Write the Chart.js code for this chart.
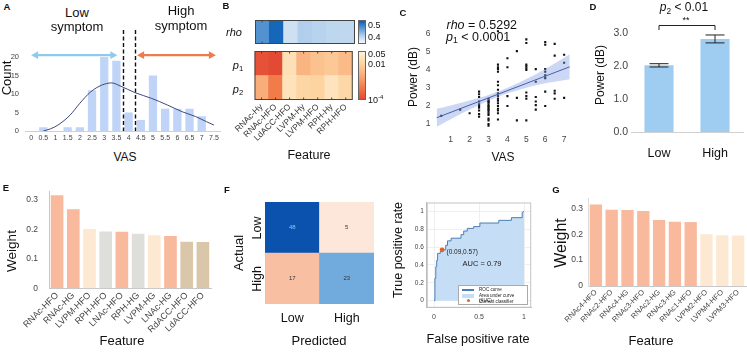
<!DOCTYPE html>
<html>
<head>
<meta charset="utf-8">
<script src="https://cdn.jsdelivr.net/npm/chart.js@4.4.0/dist/chart.umd.min.js"></script>
<style>
  body { margin: 0; background: #fff; }
  #fig { position: relative; width: 747px; height: 352px; overflow: hidden; font-family: "Liberation Sans", Arial, sans-serif; color: #111; }
  canvas { position: absolute; }
  .t { position: absolute; transform: translate(-50%, -50%); white-space: nowrap; line-height: 1; }
  .l { position: absolute; transform: translate(0, -50%); white-space: nowrap; line-height: 1; }
  .v { transform: translate(-50%, -50%) rotate(-90deg); }
  .k { font-weight: bold; font-size: 9.5px; }
  sub { font-size: 0.7em; vertical-align: -0.3em; line-height: 0; }
  .cbar { position: absolute; border: 1px solid #666; box-sizing: border-box; }
  #rocLegend { position: absolute; left: 458px; top: 285px; width: 70px; height: 20px; border: 1px solid #aaa; background: #fff; box-sizing: border-box; font-size: 4.6px; color: #222; }
  #rocLegend div { position: absolute; }
</style>
</head>
<body>
<div id="fig">
  <canvas id="cA"></canvas>
  <canvas id="cBr"></canvas>
  <canvas id="cBp"></canvas>
  <canvas id="cC"></canvas>
  <canvas id="cD"></canvas>
  <canvas id="cE"></canvas>
  <canvas id="cF"></canvas>
  <canvas id="cRoc"></canvas>
  <canvas id="cG"></canvas>

  <!-- A -->
  <div class="t k" style="left:7px;top:7px">A</div>
  <div class="t" style="left:77px;top:11.5px;font-size:13px">Low</div>
  <div class="t" style="left:77px;top:26px;font-size:13px">symptom</div>
  <div class="t" style="left:181px;top:9.5px;font-size:13px">High</div>
  <div class="t" style="left:181px;top:25px;font-size:13px">symptom</div>
  <div class="t v" style="left:5.5px;top:78px;font-size:13px">Count</div>
  <div class="t" style="left:125px;top:157px;font-size:12px">VAS</div>

  <!-- B -->
  <div class="t k" style="left:226px;top:6px">B</div>
  <div class="t" style="left:234px;top:32px;font-size:11px"><i>rho</i></div>
  <div class="t" style="left:238px;top:65px;font-size:11px"><i>p</i><sub>1</sub></div>
  <div class="t" style="left:238px;top:89px;font-size:11px"><i>p</i><sub>2</sub></div>
  <div id="cbRho" class="cbar" style="left:358px;top:19.5px;width:8px;height:24px"></div>
  <div id="cbP" class="cbar" style="left:358px;top:51px;width:8px;height:49px"></div>
  <div class="l" style="left:368px;top:24.5px;font-size:9px">0.5</div>
  <div class="l" style="left:368px;top:36.5px;font-size:9px">0.4</div>
  <div class="l" style="left:368px;top:53.5px;font-size:9px">0.05</div>
  <div class="l" style="left:368px;top:63.5px;font-size:9px">0.01</div>
  <div class="l" style="left:368px;top:98.5px;font-size:9px">10<sup style="font-size:6px">-4</sup></div>
  <div class="t" style="left:309px;top:155px;font-size:12.5px">Feature</div>

  <!-- C -->
  <div class="t k" style="left:403px;top:13px">C</div>
  <div class="l" style="left:446.5px;top:25px;font-size:12.5px"><i>rho</i> = 0.5292</div>
  <div class="l" style="left:446px;top:37px;font-size:12.5px"><i>p</i><sub>1</sub> &lt; 0.0001</div>
  <div class="t v" style="left:413px;top:77px;font-size:12px">Power (dB)</div>
  <div class="t" style="left:503px;top:157px;font-size:12px">VAS</div>

  <!-- D -->
  <div class="t k" style="left:593px;top:7px">D</div>
  <div class="t" style="left:684px;top:7px;font-size:12px"><i>p</i><sub>2</sub> &lt; 0.01</div>
  <div class="t" style="left:686px;top:20px;font-size:9px">**</div>
  <div class="t v" style="left:600px;top:75px;font-size:12px">Power (dB)</div>

  <!-- E -->
  <div class="t k" style="left:6px;top:188px">E</div>
  <div class="t v" style="left:12px;top:251px;font-size:13.5px">Weight</div>
  <div class="t" style="left:122px;top:340px;font-size:13px">Feature</div>

  <!-- F -->
  <div class="t k" style="left:227px;top:190px">F</div>
  <div class="t v" style="left:238px;top:253px;font-size:13px">Actual</div>
  <div class="t v" style="left:257px;top:228px;font-size:12.5px">Low</div>
  <div class="t v" style="left:257px;top:279px;font-size:12.5px">High</div>
  <div class="t" style="left:319px;top:340px;font-size:13px">Predicted</div>
  <div class="t v" style="left:398px;top:250px;font-size:12.5px">True positive rate</div>
  <div class="t" style="left:478px;top:338.5px;font-size:12.7px">False positive rate</div>
  <div class="l" style="left:446.5px;top:251.5px;font-size:6.5px;color:#222">(0.09,0.57)</div>
  <div class="t" style="left:482px;top:264px;font-size:7.5px;color:#222">AUC = 0.79</div>
  <div id="rocLegend">
    <div style="left:3px;top:3px;width:12px;height:1.5px;background:#4a7fb5"></div>
    <div style="left:20px;top:1.2px">ROC curve</div>
    <div style="left:3px;top:8px;width:12px;height:3.5px;background:#c6def5"></div>
    <div style="left:20px;top:7.2px">Area under curve (AUC)</div>
    <div style="left:7.5px;top:13px;width:3px;height:3px;border-radius:50%;background:#e0622a"></div>
    <div style="left:20px;top:12.7px">Current classifier</div>
  </div>

  <!-- G -->
  <div class="t k" style="left:556px;top:190px">G</div>
  <div class="t v" style="left:561px;top:243px;font-size:16px">Weight</div>
  <div class="t" style="left:651px;top:340px;font-size:13px">Feature</div>
</div>

<script>
// ---- A: VAS histogram ----
const vasBins = [0.5, 1.5, 2, 2.5, 3, 3.5, 4, 4.5, 5, 5.5, 6, 6.5, 7];
const vasCounts = [1, 1, 1, 11, 20, 19, 5, 3, 15, 6, 6, 6, 4];
const densityX = [0.5, 0.8, 1.1, 1.6, 2.0, 2.45, 2.9, 3.3, 3.65, 4.25, 4.95, 5.6, 6.2, 6.75, 7.2, 7.5];
const densityY = [0.0, 0.6, 1.6, 4.3, 7.5, 10.6, 12.4, 13.0, 12.2, 10.4, 8.8, 7.0, 5.2, 3.9, 2.5, 1.6];
const vasTicks = [0, 0.5, 1, 1.5, 2, 2.5, 3, 3.5, 4, 4.5, 5, 5.5, 6, 6.5, 7, 7.5];
const countTicks = [0, 5, 10, 15, 20];
const cutPoints = [3.75, 4.25];
const lowRange = [0, 3.54];
const highRange = [4.35, 7.58];
const arrowLevel = 20.5;

// ---- B: correlation heatmap ----
const featB = ['RNAc-Hy', 'RNAc-HFO', 'LdACC-HFO', 'LVPM-Hy', 'LVPM-HFO', 'RPH-Hy', 'RPH-HFO'];
const rhoVals = [0.477, 0.5292, 0.372, 0.40, 0.395, 0.39, 0.387];
const p1Vals = [0.00013, 0.0001, 0.020, 0.0032, 0.0053, 0.0068, 0.0042];
const p2Vals = [0.0024, 0.00047, 0.022, 0.012, 0.0106, 0.024, 0.0127];

// ---- C: power vs VAS ----
const scatterVas = [0.5, 1.5, 2, 2.5, 3, 3.5, 4, 4.5, 5, 5.5, 6, 6.5, 7];
const scatterPower = [
  [1.45],
  [1.8],
  [1.6],
  [2.8, 2.65, 2.5, 2.25, 2.1, 2.0, 1.9, 1.75, 1.55, 1.4],
  [2.4, 2.3, 2.25, 2.2, 2.1, 2.0, 1.95, 1.85, 1.8, 1.7, 1.6, 1.5, 1.3, 1.2, 1.0, 0.9],
  [6.15, 4.3, 4.15, 4.05, 3.9, 3.35, 3.15, 2.9, 2.7, 2.55, 2.4, 2.3, 2.15, 2.0, 1.85, 1.75, 1.6, 1.25],
  [4.65, 4.15, 2.55, 2.0],
  [5.05, 2.45, 1.2],
  [5.7, 5.5, 4.3, 4.2, 4.1, 4.0, 2.75, 2.55, 2.4, 1.2],
  [4.05, 3.35, 2.5, 2.25, 2.05, 1.8],
  [5.55, 5.4, 4.05, 3.9, 3.7, 3.55, 2.8, 2.0],
  [5.45, 4.8, 2.85, 2.7, 2.4],
  [4.85, 4.4, 2.45]
];
const fitX = [0.26, 7.3];
const fitY = [1.35, 4.18];
const bandX = [0.26, 1, 2, 3, 3.5, 4, 5, 6, 7.3];
const bandUpper = [1.85, 2.03, 2.3, 2.61, 2.8, 3.01, 3.5, 4.06, 4.88];
const bandLower = [0.85, 1.27, 1.8, 2.29, 2.52, 2.71, 3.02, 3.26, 3.48];
const cXTicks = [1, 2, 3, 4, 5, 6, 7];
const cYTicks = [1, 2, 3, 4, 5, 6];

// ---- D: group means ----
const groups = ['Low', 'High'];
const groupMeans = [2.02, 2.82];
const groupErr = [0.05, 0.12];
const bracketLevel = 3.24;
const dTicks = [0, 1, 2, 3];

// ---- E / G: feature weights ----
const featE = ['RNAc-HFO', 'RNAc-HG', 'LVPM-HFO', 'RPH-HFO', 'LNAc-HFO', 'RPH-HG', 'LVPM-HG', 'LNAc-HG', 'RdACC-HFO', 'LdACC-HFO'];
const weightE = [0.316, 0.268, 0.201, 0.193, 0.192, 0.185, 0.180, 0.177, 0.158, 0.157];
const featG = ['RNAc4-HFO', 'RNAc2-HFO', 'RNAc4-HG', 'RNAc3-HFO', 'RNAc2-HG', 'RNAc3-HG', 'RNAc1-HFO', 'LVPM2-HFO', 'LVPM4-HFO', 'LVPM3-HFO'];
const weightG = [0.315, 0.295, 0.294, 0.290, 0.255, 0.248, 0.247, 0.200, 0.196, 0.195];
const weightTicks = [0, 0.1, 0.2, 0.3];

// ---- F: confusion matrix + ROC ----
const classes = ['Low', 'High'];
const confusion = [[48, 5], [17, 23]]; // rows: actual, cols: predicted
const rocFpr = [0, 0.01, 0.01, 0.02, 0.02, 0.03, 0.03, 0.04, 0.04, 0.07, 0.07, 0.09, 0.09, 0.13, 0.13, 0.15, 0.15, 0.19, 0.19, 0.30, 0.30, 0.33, 0.33, 0.37, 0.37, 0.44, 0.44, 0.51, 0.51, 0.72, 0.72, 0.86, 0.86, 0.98, 0.98, 1];
const rocTpr = [0, 0, 0.25, 0.25, 0.38, 0.38, 0.45, 0.45, 0.53, 0.53, 0.55, 0.55, 0.57, 0.57, 0.62, 0.62, 0.67, 0.67, 0.70, 0.70, 0.74, 0.74, 0.78, 0.78, 0.81, 0.81, 0.83, 0.83, 0.87, 0.87, 0.90, 0.90, 0.93, 0.93, 0.99, 1];
const classifierPt = [0.09, 0.57];
const rocYTicks = [0, 0.2, 0.4, 0.6, 0.8, 1];
const rocXTicks = [0, 0.5, 1];

// ---- colour helpers ----
const blueStops = [[0, '#f4f8fd'], [0.3, '#bad5ee'], [0.6, '#6aa3da'], [1, '#0a5eb5']];
const redStops = [[0, '#e34a33'], [0.25, '#f27b4a'], [0.5, '#f9ab78'], [0.75, '#fdd3a0'], [1, '#fff2d8']];
const rhoRange = [0.33, 0.54];
const pRange = [1e-4, 0.05];

function hex(c) { return [1, 3, 5].map(i => parseInt(c.slice(i, i + 2), 16)); }
function ramp(stops, t) {
  t = Math.min(1, Math.max(0, t));
  for (let i = 1; i < stops.length; i++) {
    if (t <= stops[i][0]) {
      const [t0, c0] = stops[i - 1], [t1, c1] = stops[i];
      const f = (t - t0) / (t1 - t0), a = hex(c0), b = hex(c1);
      return 'rgb(' + a.map((v, k) => Math.round(v + (b[k] - v) * f)).join(',') + ')';
    }
  }
  return stops[stops.length - 1][1];
}
const rhoColor = v => ramp(blueStops, (v - rhoRange[0]) / (rhoRange[1] - rhoRange[0]));
const pColor = v => ramp(redStops, (Math.log10(v) - Math.log10(pRange[0])) / (Math.log10(pRange[1]) - Math.log10(pRange[0])));
const gradient = stops => 'linear-gradient(to top,' + stops.map(s => s[1] + ' ' + s[0] * 100 + '%').join(',') + ')';
document.getElementById('cbRho').style.background = gradient(blueStops);
document.getElementById('cbP').style.background = gradient(redStops);

function confColor(n, diag) {
  if (diag) return ramp([[0, '#eaf2fb'], [0.5, '#6ca7dc'], [1, '#0a52ae']], n / 48);
  return ramp([[0, '#fff7f3'], [1, '#f8bc9e']], n / 18);
}
function regionColor(name) {
  if (name.includes('NAc')) return '#f9b99c';
  if (name.includes('VPM')) return '#fde8d2';
  if (name.includes('ACC')) return '#dac6a8';
  return '#dedfdb';
}

// ---- chart plumbing ----
Chart.defaults.font.family = '"Liberation Sans", Arial, sans-serif';
Chart.defaults.color = '#444';
const fmt = v => String(+(+v).toFixed(3));
const fixTicks = list => s => { s.ticks = list.map(v => ({value: v})); };

const frame = {
  id: 'frame',
  afterDatasetsDraw(chart, args, opts) {
    if (!opts.color) return;
    const {ctx, chartArea: a} = chart;
    ctx.save();
    ctx.strokeStyle = opts.color;
    ctx.lineWidth = 1;
    ctx.strokeRect(a.left + 0.5, a.top + 0.5, a.right - a.left - 1, a.bottom - a.top - 1);
    if (opts.marks) {
      const x = chart.scales.x;
      x.ticks.forEach((t, i) => {
        const px = x.getPixelForTick(i);
        ctx.beginPath();
        ctx.moveTo(px, a.bottom); ctx.lineTo(px, a.bottom - 2.5);
        ctx.moveTo(px, a.top); ctx.lineTo(px, a.top + 2.5);
        ctx.stroke();
      });
    }
    ctx.restore();
  }
};
Chart.register(frame);

function make(id, box, area, cfg) {
  const cv = document.getElementById(id);
  cv.width = box.w; cv.height = box.h;
  cv.style.left = box.l + 'px'; cv.style.top = box.t + 'px';
  const o = cfg.options;
  o.responsive = false; o.animation = false; o.devicePixelRatio = 1;
  const xs = o.scales.x, ys = o.scales.y;
  [xs, ys].forEach(s => { s.grid = Object.assign({drawTicks: false}, s.grid || {}); });
  o.layout = {padding: {
    left: ys.display === false ? area.x0 - box.l : 0,
    top: area.y0 - box.t,
    right: box.l + box.w - area.x1,
    bottom: xs.display === false ? box.t + box.h - area.y1 : 0
  }};
  if (xs.display !== false) xs.afterFit = s => { s.height = box.t + box.h - area.y1; };
  if (ys.display !== false) ys.afterFit = s => { s.width = area.x0 - box.l; };
  o.plugins = Object.assign({legend: {display: false}, tooltip: {enabled: false}}, o.plugins || {});
  return new Chart(cv, cfg);
}

function arrow(ctx, x0, x1, y, color) {
  ctx.strokeStyle = color; ctx.fillStyle = color; ctx.lineWidth = 2.2;
  ctx.beginPath(); ctx.moveTo(x0 + 5, y); ctx.lineTo(x1 - 5, y); ctx.stroke();
  [[x0, 1], [x1, -1]].forEach(([x, d]) => {
    ctx.beginPath(); ctx.moveTo(x, y); ctx.lineTo(x + d * 7, y - 3.8); ctx.lineTo(x + d * 7, y + 3.8); ctx.closePath(); ctx.fill();
  });
}

const annotateA = {
  id: 'annotateA',
  afterDatasetsDraw(chart) {
    const {ctx, chartArea, scales: {x, y}} = chart;
    ctx.save();
    ctx.strokeStyle = '#111'; ctx.lineWidth = 1.4; ctx.setLineDash([4, 2.5]);
    cutPoints.forEach(v => {
      const px = Math.round(x.getPixelForValue(v)) + 0.5;
      ctx.beginPath(); ctx.moveTo(px, 10); ctx.lineTo(px, chartArea.bottom); ctx.stroke();
    });
    ctx.setLineDash([]);
    const py = y.getPixelForValue(arrowLevel);
    arrow(ctx, x.getPixelForValue(lowRange[0]), x.getPixelForValue(lowRange[1]), py, '#8fcaee');
    arrow(ctx, x.getPixelForValue(highRange[0]), x.getPixelForValue(highRange[1]), py, '#ee7b4c');
    ctx.restore();
  }
};

const errorBars = {
  id: 'errorBars',
  afterDatasetsDraw(chart) {
    const {ctx, scales: {y}} = chart;
    const bars = chart.getDatasetMeta(0).data;
    ctx.save(); ctx.strokeStyle = '#222'; ctx.lineWidth = 1;
    bars.forEach((b, i) => {
      const top = y.getPixelForValue(groupMeans[i] + groupErr[i]);
      const bot = y.getPixelForValue(groupMeans[i] - groupErr[i]);
      ctx.beginPath();
      ctx.moveTo(b.x, top); ctx.lineTo(b.x, bot);
      ctx.moveTo(b.x - 9.5, top); ctx.lineTo(b.x + 9.5, top);
      ctx.moveTo(b.x - 9.5, bot); ctx.lineTo(b.x + 9.5, bot);
      ctx.stroke();
    });
    const by = Math.round(y.getPixelForValue(bracketLevel)) + 0.5;
    const leg = y.getPixelForValue(bracketLevel - 0.15);
    ctx.beginPath();
    ctx.moveTo(bars[0].x, leg); ctx.lineTo(bars[0].x, by); ctx.lineTo(bars[1].x, by); ctx.lineTo(bars[1].x, leg);
    ctx.stroke();
    ctx.restore();
  }
};

const cellText = {
  id: 'cellText',
  afterDatasetsDraw(chart) {
    const ctx = chart.ctx;
    ctx.save();
    ctx.font = '6px "Liberation Sans", Arial, sans-serif';
    ctx.textAlign = 'center'; ctx.textBaseline = 'middle';
    chart.data.datasets.forEach((ds, di) => {
      chart.getDatasetMeta(di).data.forEach((el, i) => {
        const n = ds.counts[i];
        ctx.fillStyle = ds.diag[i] && n > 30 ? '#7fd0f5' : '#333';
        ctx.fillText(String(n), el.x, (el.y + el.base) / 2);
      });
    });
    ctx.restore();
  }
};

// ---- A ----
make('cA', {l: 0, t: 20, w: 230, h: 130}, {x0: 25, y0: 49.6, x1: 220, y1: 131}, {
  type: 'bar',
  data: {datasets: [
    {type: 'line', data: densityX.map((x, i) => ({x, y: densityY[i]})), borderColor: '#3d4b7c', borderWidth: 1,
     pointRadius: 0, cubicInterpolationMode: 'monotone', order: 0},
    {type: 'bar', data: vasBins.map((x, i) => ({x, y: vasCounts[i]})), backgroundColor: '#bfd4f6',
     barPercentage: 0.85, categoryPercentage: 0.8, order: 1}
  ]},
  options: {scales: {
    x: {type: 'linear', min: 0, max: 7.5, afterBuildTicks: fixTicks(vasTicks),
        ticks: {font: {size: 7}, padding: 3, maxRotation: 0, autoSkip: false, callback: fmt},
        grid: {display: false}, border: {color: '#d0d0d0'}},
    y: {min: 0, max: 22, afterBuildTicks: fixTicks(countTicks),
        ticks: {font: {size: 7.5}, padding: 6, callback: fmt}, grid: {display: false}, border: {display: false}}
  }},
  plugins: [annotateA]
});

// ---- B ----
make('cBr', {l: 254.5, t: 19.5, w: 100, h: 24}, {x0: 254.5, y0: 19.5, x1: 354.5, y1: 43.5}, {
  type: 'bar',
  data: {labels: featB, datasets: [{data: featB.map(() => 1), backgroundColor: rhoVals.map(rhoColor)}]},
  options: {
    datasets: {bar: {barPercentage: 1, categoryPercentage: 1, borderWidth: 0}},
    scales: {x: {display: false}, y: {display: false, min: 0, max: 1}},
    plugins: {frame: {color: '#444', marks: true}}
  }
});
make('cBp', {l: 200, t: 41, w: 155, h: 110}, {x0: 254.5, y0: 51, x1: 354.5, y1: 100}, {
  type: 'bar',
  data: {labels: featB, datasets: [
    {data: featB.map(() => 1), backgroundColor: p2Vals.map(pColor)},
    {data: featB.map(() => 1), backgroundColor: p1Vals.map(pColor)}
  ]},
  options: {
    datasets: {bar: {barPercentage: 1, categoryPercentage: 1, borderWidth: 0}},
    scales: {
      x: {stacked: true, ticks: {font: {size: 8.5}, color: '#333', minRotation: 45, maxRotation: 45, autoSkip: false, padding: 2},
          grid: {display: false}, border: {display: false}},
      y: {display: false, stacked: true, min: 0, max: 2}
    },
    plugins: {frame: {color: '#444', marks: true}}
  }
});

// ---- C ----
const cPoints = [];
scatterVas.forEach((v, i) => scatterPower[i].forEach(p => cPoints.push({x: v, y: p})));
make('cC', {l: 395, t: 5, w: 180, h: 140}, {x0: 435.6, y0: 26.8, x1: 569.8, y1: 131.2}, {
  type: 'scatter',
  data: {datasets: [
    {data: bandX.map((x, i) => ({x, y: bandUpper[i]})), showLine: true, fill: '+1', backgroundColor: 'rgba(120,150,225,0.38)',
     borderWidth: 0, pointRadius: 0, tension: 0.3},
    {data: bandX.map((x, i) => ({x, y: bandLower[i]})), showLine: true, fill: false, borderWidth: 0, pointRadius: 0, tension: 0.3},
    {data: fitX.map((x, i) => ({x, y: fitY[i]})), showLine: true, borderColor: '#2b3d8c', borderWidth: 1, pointRadius: 0},
    {data: cPoints, pointStyle: 'rect', pointRadius: 1.5, backgroundColor: '#111', borderWidth: 0}
  ]},
  options: {scales: {
    x: {type: 'linear', min: 0.2, max: 7.3, afterBuildTicks: fixTicks(cXTicks), ticks: {font: {size: 8.5}, padding: 3, callback: fmt},
        grid: {display: false}, border: {display: false}},
    y: {min: 0.6, max: 6.4, afterBuildTicks: fixTicks(cYTicks), ticks: {font: {size: 8.5}, padding: 5, callback: fmt},
        grid: {display: false}, border: {display: false}}
  }}
});

// ---- D ----
make('cD', {l: 595, t: 5, w: 152, h: 160}, {x0: 631, y0: 19.8, x1: 743, y1: 132}, {
  type: 'bar',
  data: {labels: groups, datasets: [{data: groupMeans, backgroundColor: '#9fcdf1', barPercentage: 0.65, categoryPercentage: 0.8}]},
  options: {scales: {
    x: {ticks: {font: {size: 12.5}, color: '#111', padding: 14}, grid: {display: false}, border: {color: '#d0d0d0'}},
    y: {min: 0, max: 3.4, afterBuildTicks: fixTicks(dTicks), ticks: {font: {size: 10.5}, padding: 3, callback: v => (+v).toFixed(1)},
        grid: {display: false}, border: {display: false}}
  }},
  plugins: [errorBars]
});

// ---- E ----
make('cE', {l: 0, t: 170, w: 220, h: 175}, {x0: 49, y0: 191, x1: 211, y1: 288.3}, {
  type: 'bar',
  data: {labels: featE, datasets: [{data: weightE, backgroundColor: featE.map(regionColor), barPercentage: 0.78, categoryPercentage: 1}]},
  options: {scales: {
    x: {ticks: {font: {size: 9}, color: '#444', minRotation: 45, maxRotation: 45, autoSkip: false, padding: 2},
        grid: {display: false}, border: {color: '#c8c8c8'}},
    y: {min: 0, max: 0.33, afterBuildTicks: fixTicks(weightTicks), ticks: {font: {size: 8.5}, padding: 11, callback: fmt},
        grid: {display: false}, border: {color: '#c8c8c8'}}
  }}
});

// ---- F: confusion ----
make('cF', {l: 225, t: 195, w: 155, h: 140}, {x0: 265, y0: 202, x1: 374, y1: 304}, {
  type: 'bar',
  data: {labels: classes, datasets: [
    {data: classes.map(() => 1), counts: confusion[1], diag: [false, true],
     backgroundColor: confusion[1].map((n, j) => confColor(n, j === 1))},
    {data: classes.map(() => 1), counts: confusion[0], diag: [true, false],
     backgroundColor: confusion[0].map((n, j) => confColor(n, j === 0))}
  ]},
  options: {
    datasets: {bar: {barPercentage: 1, categoryPercentage: 1, borderWidth: 0}},
    scales: {
      x: {stacked: true, ticks: {font: {size: 12.5}, color: '#111', padding: 7}, grid: {display: false}, border: {display: false}},
      y: {display: false, stacked: true, min: 0, max: 2}
    }
  },
  plugins: [cellText]
});

// ---- F: ROC ----
make('cRoc', {l: 395, t: 190, w: 145, h: 135}, {x0: 426.8, y0: 202.5, x1: 531.2, y1: 307.8}, {
  type: 'scatter',
  data: {datasets: [
    {data: [{x: classifierPt[0], y: classifierPt[1]}], pointRadius: 2.4, backgroundColor: '#e0622a', borderWidth: 0},
    {data: rocFpr.map((x, i) => ({x, y: rocTpr[i]})), showLine: true, fill: 'origin', backgroundColor: '#c6def5',
     borderColor: '#4a7fb5', borderWidth: 1, pointRadius: 0}
  ]},
  options: {
    scales: {
      x: {type: 'linear', min: -0.08, max: 1.08, afterBuildTicks: fixTicks(rocXTicks), ticks: {font: {size: 7}, padding: 5, callback: fmt},
          grid: {color: '#efefef'}, border: {color: '#bbb'}},
      y: {min: -0.08, max: 1.1, afterBuildTicks: fixTicks(rocYTicks), ticks: {font: {size: 6.5}, padding: 3, callback: fmt},
          grid: {color: '#efefef'}, border: {color: '#bbb'}}
    },
    plugins: {frame: {color: '#c4c4c4'}}
  }
});

// ---- G ----
make('cG', {l: 555, t: 180, w: 192, h: 165}, {x0: 588, y0: 198, x1: 746, y1: 286}, {
  type: 'bar',
  data: {labels: featG, datasets: [{data: weightG, backgroundColor: featG.map(regionColor), barPercentage: 0.78, categoryPercentage: 1}]},
  options: {scales: {
    x: {ticks: {font: {size: 7.5}, color: '#444', minRotation: 45, maxRotation: 45, autoSkip: false, padding: 2},
        grid: {display: false}, border: {color: '#c8c8c8'}},
    y: {min: 0, max: 0.34, afterBuildTicks: fixTicks(weightTicks), ticks: {font: {size: 8.5}, padding: 5, callback: fmt},
        grid: {display: false}, border: {color: '#dddddd'}}
  }}
});
</script>
</body>
</html>
